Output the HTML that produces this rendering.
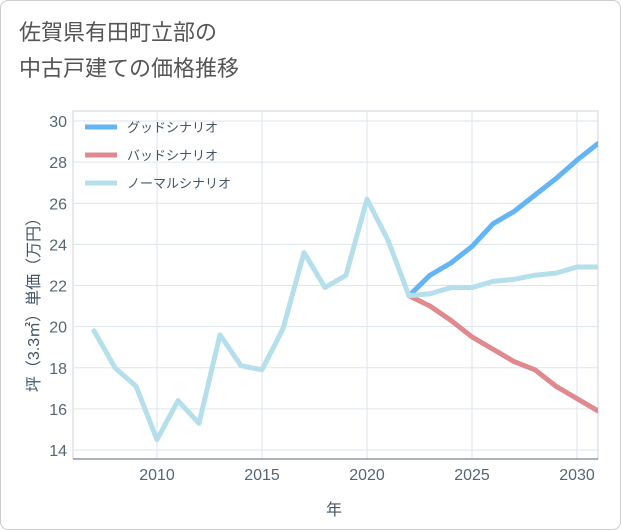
<!DOCTYPE html>
<html><head><meta charset="utf-8">
<style>
body{margin:0;background:#fff;}
#wrap{position:relative;width:619px;height:528px;border:1px solid #ccc;border-radius:8px;overflow:hidden;background:#fff;font-family:"Liberation Sans","Noto Sans CJK JP",sans-serif;}
#title{position:absolute;left:18px;top:14px;font-size:22px;line-height:36px;color:#555;}
</style></head><body>
<div id="wrap">
<div id="title">佐賀県有田町立部の<br>中古戸建ての価格推移</div>
<svg id="chart" width="621" height="530" style="position:absolute;left:0;top:0"></svg>
</div>
<script>
const years=[2007,2008,2009,2010,2011,2012,2013,2014,2015,2016,2017,2018,2019,2020,2021,2022,2023,2024,2025,2026,2027,2028,2029,2030,2031];
const normalVals=[19.8,18.0,17.1,14.5,16.4,15.3,19.6,18.1,17.9,19.9,23.6,21.9,22.5,26.2,24.2,21.5,21.6,21.9,21.9,22.2,22.3,22.5,22.6,22.9,22.9];
const forecastYears=[2022,2023,2024,2025,2026,2027,2028,2029,2030,2031];
const goodVals=[21.5,22.5,23.1,23.9,25.0,25.6,26.4,27.2,28.1,28.9];
const badVals=[21.5,21.0,20.3,19.5,18.9,18.3,17.9,17.1,16.5,15.9];
const xTicks=[2010,2015,2020,2025,2030];
const yTicks=[14,16,18,20,22,24,26,28,30];
const legendLabels=["グッドシナリオ","バッドシナリオ","ノーマルシナリオ"];
const colors=["#64b5f6","#e0898e","#b5dfea"];

const NS="http://www.w3.org/2000/svg";
const svg=document.getElementById('chart');
const L=72,R=597,T=110,B=458;
function x(v){return 156+(v-2010)*21;}
function y(v){return 449-(v-14)*(329/16);}
function mk(tag,attrs,parent){const e=document.createElementNS(NS,tag);for(const k in attrs)e.setAttribute(k,attrs[k]);(parent||svg).appendChild(e);return e;}

const plot=mk('rect',{x:L,y:T,width:R-L,height:B-T,fill:'#fff',stroke:'#ccd6dd'});


yTicks.forEach(t=>{
  const g=mk('line',{x1:L,x2:R,y1:y(t),y2:y(t),stroke:'#dde6ec'});
  
  
  const tx=mk('text',{x:L-6,y:y(t)+6,'text-anchor':'end','font-size':16,fill:'#556677'});
  tx.textContent=t;
  
  
});
xTicks.forEach(t=>{
  const g=mk('line',{x1:x(t),x2:x(t),y1:T,y2:B,stroke:'#dde6ec'});
  
  
  const tx=mk('text',{x:x(t),y:B+21,'text-anchor':'middle','font-size':16,fill:'#556677'});
  tx.textContent=t;
  
  
});
const ax=mk('line',{x1:L,x2:R,y1:B,y2:B,stroke:'#556677'});


const xt=mk('text',{x:333,y:514,'text-anchor':'middle','font-size':16,fill:'#445566'});
xt.textContent='年';


const yt=mk('text',{x:0,y:0,'text-anchor':'middle','font-size':16,fill:'#445566',transform:'translate(38,300) rotate(-90)'});
yt.textContent='坪（3.3㎡）単価（万円）';



function line(xs,vs,color,name){
  const d=xs.map((v,i)=>(i?'L':'M')+x(v)+','+y(vs[i])).join(' ');
  const p=mk('path',{d:d,fill:'none',stroke:color,'stroke-width':5,'stroke-linejoin':'round','stroke-linecap':'round','clip-path':'url(#clip)'});
  
  
}
const defs=mk('defs',{});
const cp=mk('clipPath',{id:'clip'},defs);
mk('rect',{x:L,y:T,width:R-L,height:B-T},cp);
line(forecastYears,goodVals,colors[0],'good-scenario-line');
line(forecastYears,badVals,colors[1],'bad-scenario-line');
line(years,normalVals,colors[2],'normal-scenario-line');

legendLabels.forEach((lab,i)=>{
  const ly=126+i*28;
  const l=mk('line',{x1:84,x2:116,y1:ly,y2:ly,stroke:colors[i],'stroke-width':5});
  
  
  const t=mk('text',{x:126,y:ly+5,'font-size':13,fill:'#445566'});
  t.textContent=lab;
  
  
});
</script>
</body></html>
